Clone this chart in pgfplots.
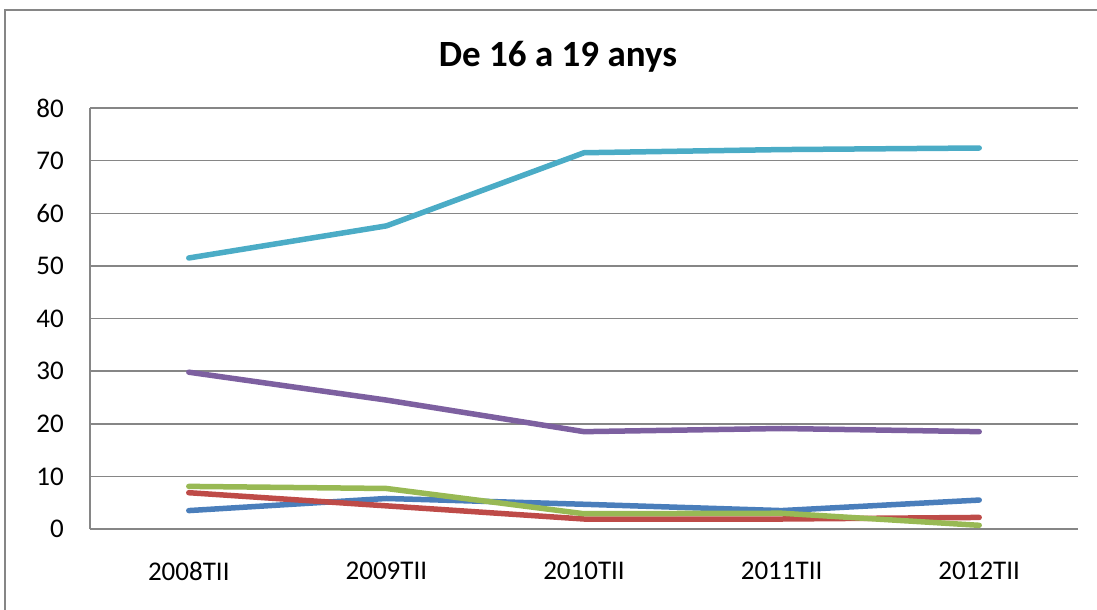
\documentclass[border=0pt]{standalone}
\usepackage{fontspec}
\setmainfont{Carlito}
\usepackage{pgfplots}
\pgfplotsset{compat=1.18}
\definecolor{sblue}{HTML}{4A7EBB}
\definecolor{sred}{HTML}{BE4B48}
\definecolor{sgreen}{HTML}{98B954}
\definecolor{spurple}{HTML}{7D60A0}
\definecolor{scyan}{HTML}{4BACC6}
\definecolor{gridgray}{HTML}{868686}
\begin{document}
\begin{tikzpicture}[x=1bp,y=1bp]
\useasboundingbox (0,0) rectangle (1097,-610);
\draw[color=gridgray, line width=1.5bp] (5,-640) -- (5,-10) -- (1130,-10);
\node[font=\fontsize{37bp}{44bp}\selectfont\bfseries] at (558,-57) {De 16 a 19 anys};
\begin{axis}[
  at={(90bp,-529bp)}, anchor=south west,
  scale only axis, width=988bp, height=421bp,
  xmin=-0.5, xmax=4.5, ymin=0, ymax=80,
  ytick={0,10,...,80},
  xtick={0,1,2,3,4},
  xticklabels={2008TII,2009TII,2010TII,2011TII,2012TII},
  axis x line=bottom, axis y line=left,
  axis line style={-, draw=gridgray, line width=1.5bp},
  major tick length=0pt,
  ymajorgrids, grid style={draw=gridgray, line width=1.5bp},
  tick label style={font=\fontsize{27bp}{32bp}\selectfont, inner sep=0pt},
  /pgf/number format/assume math mode=true,
  yticklabel style={xshift=-26bp},
  xticklabel style={yshift=-33bp},
  every axis plot/.append style={line width=5.5bp, line cap=round, line join=round, mark=none},
  clip=false,
]
\addplot[sblue] coordinates {(0,3.5) (1,5.8) (2,4.7) (3,3.5) (4,5.5)};
\addplot[sred] coordinates {(0,6.9) (1,4.4) (2,1.9) (3,1.9) (4,2.2)};
\addplot[sgreen] coordinates {(0,8.1) (1,7.7) (2,2.9) (3,3.0) (4,0.7)};
\addplot[spurple] coordinates {(0,29.8) (1,24.5) (2,18.5) (3,19.1) (4,18.5)};
\addplot[scyan] coordinates {(0,51.5) (1,57.6) (2,71.5) (3,72.1) (4,72.4)};
\end{axis}
\end{tikzpicture}
\end{document}
